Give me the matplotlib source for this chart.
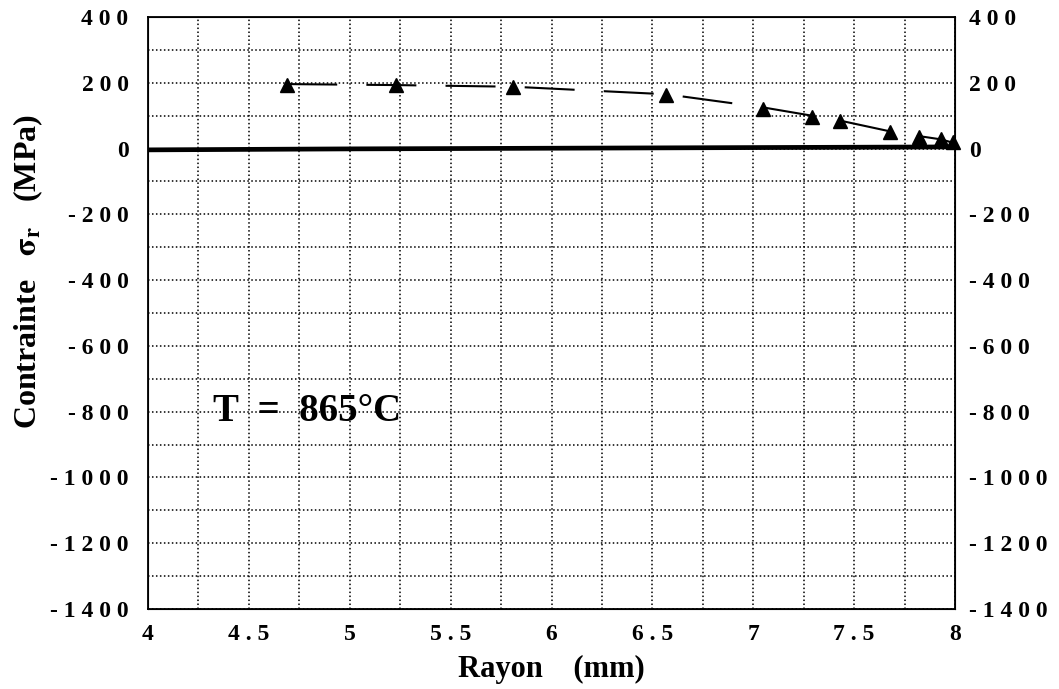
import matplotlib
matplotlib.use("Agg")
import matplotlib.pyplot as plt
from matplotlib.ticker import FixedLocator, MultipleLocator

# Data
rayon_pts = [4.69, 5.23, 5.81, 6.57, 7.05, 7.29, 7.43, 7.68, 7.82, 7.93, 7.99]
sigma_pts = [194, 192, 188, 162, 121, 97, 83, 49, 35, 28, 19]
rayon_line = [4.69, 5.23, 5.81, 6.57, 7.05, 7.29, 7.43, 7.68, 7.82, 7.93, 8.0]
sigma_line = [196, 193, 188, 165, 125, 100, 85, 52, 38, 28, 16]
rayon_solid = [4.0, 5.0, 6.0, 7.0, 8.0]
sigma_solid = [-4, -1, 1, 3, 5]

xticks = [4, 4.5, 5, 5.5, 6, 6.5, 7, 7.5, 8]
xtick_labels = ["4", "4 . 5", "5", "5 . 5", "6", "6 . 5", "7", "7 . 5", "8"]
yticks = [400, 200, 0, -200, -400, -600, -800, -1000, -1200, -1400]
ytick_labels = ["4 0 0", "2 0 0", "0", "- 2 0 0", "- 4 0 0", "- 6 0 0", "- 8 0 0",
                "- 1 0 0 0", "- 1 2 0 0", "- 1 4 0 0"]

plt.rcParams['font.family'] = ['Liberation Serif', 'DejaVu Serif']
plt.rcParams['mathtext.fontset'] = 'stix'

fig = plt.figure(figsize=(10.59, 6.89), dpi=100)
ax = fig.add_axes([148/1059, 1 - 609/689, (955-148)/1059, (609-17)/689])

ax.set_xlim(4, 8)
ax.set_ylim(-1400, 400)

# grid
ax.xaxis.set_major_locator(FixedLocator(xticks))
ax.xaxis.set_minor_locator(MultipleLocator(0.25))
ax.yaxis.set_major_locator(FixedLocator(yticks))
ax.yaxis.set_minor_locator(MultipleLocator(100))
ax.grid(True, which='both', color='black', linestyle=(0, (1, 1.6)), linewidth=1.1)
ax.set_axisbelow(True)

# curves
ax.plot(rayon_solid, sigma_solid, color='black', linewidth=3.4, solid_capstyle='butt', zorder=3)
ax.plot(rayon_line, sigma_line, color='black', linewidth=1.5, dashes=(24, 14), zorder=3)
ax.plot(rayon_pts, sigma_pts, linestyle='none', marker='^', markersize=10,
        color='black', zorder=4, clip_on=False)

ax.set_xticklabels(xtick_labels, fontsize=17, fontweight='bold')
ax.set_yticklabels(ytick_labels, fontsize=17, fontweight='bold')
ax.tick_params(which='both', length=0)
ax.tick_params(axis='x', pad=11)
ax.tick_params(axis='y', pad=14)

for s in ax.spines.values():
    s.set_linewidth(1.3)

# right axis with same labels
ax2 = ax.twinx()
ax2.set_ylim(-1400, 400)
ax2.yaxis.set_major_locator(FixedLocator(yticks))
ax2.set_yticklabels(ytick_labels, fontsize=17, fontweight='bold')
ax2.tick_params(length=0, pad=10)

ax.set_xlabel("Rayon    (mm)", fontsize=22, fontweight='bold', labelpad=7)
ax.set_ylabel(r"Contrainte   $\mathbf{\sigma}_{\mathbf{r}}$   (MPa)", fontsize=23,
              fontweight='bold')
ax.yaxis.set_label_coords(-0.128, 0.57)

ax.text(4.79, -800, "T  =  865°C", fontsize=28, fontweight='bold', ha='center', va='center', zorder=5)

fig.savefig("out.png", dpi=100)
